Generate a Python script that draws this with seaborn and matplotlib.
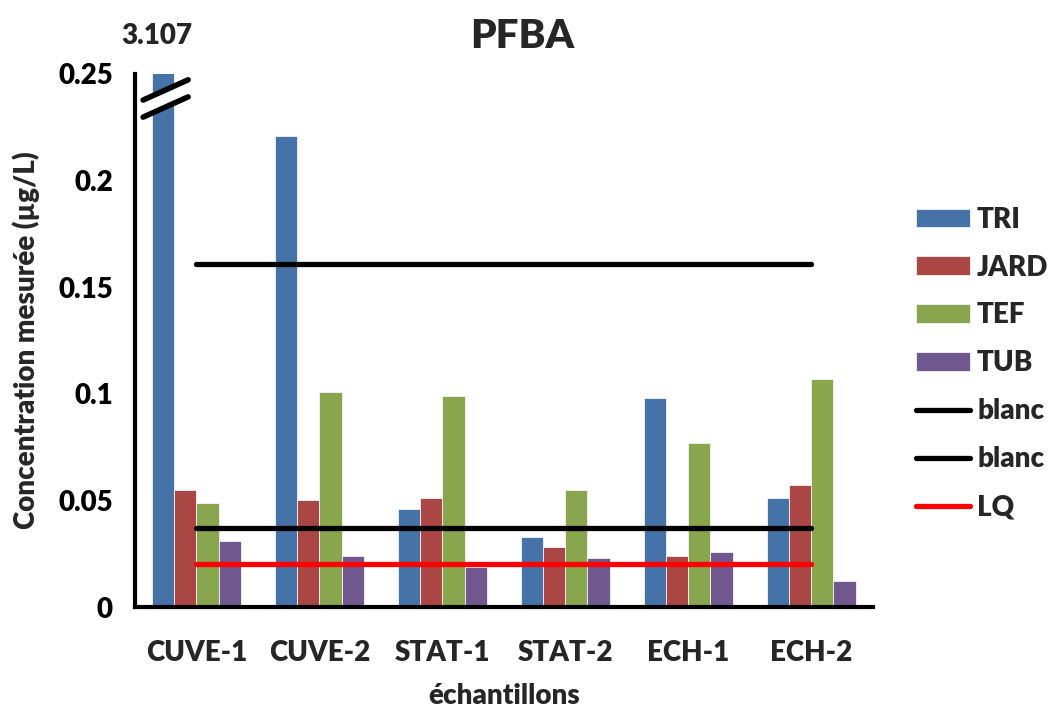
import matplotlib
matplotlib.use("Agg")
import matplotlib.pyplot as plt
import matplotlib.transforms as mtransforms
from matplotlib.lines import Line2D
from matplotlib.patches import Polygon
import seaborn as sns
import pandas as pd

# --- data ---------------------------------------------------------------
categories = ["CUVE-1", "CUVE-2", "STAT-1", "STAT-2", "ECH-1", "ECH-2"]
series_names = ["TRI", "JARD", "TEF", "TUB"]
tri = [3.107, 0.221, 0.046, 0.033, 0.098, 0.051]
jard = [0.055, 0.050, 0.051, 0.028, 0.024, 0.057]
tef = [0.049, 0.101, 0.099, 0.055, 0.077, 0.107]
tub = [0.031, 0.024, 0.019, 0.023, 0.026, 0.012]
blanc_high = [0.161, 0.161, 0.161, 0.161, 0.161, 0.161]
blanc_low = [0.037, 0.037, 0.037, 0.037, 0.037, 0.037]
lq = [0.020, 0.020, 0.020, 0.020, 0.020, 0.020]
y_ticks = [0, 0.05, 0.1, 0.15, 0.2, 0.25]
y_tick_labels = ["0", "0.05", "0.1", "0.15", "0.2", "0.25"]

colors = ["#4572A7", "#AA4643", "#89A54E", "#71588F"]

rows = []
for name, vals in zip(series_names, [tri, jard, tef, tub]):
    for cat, v in zip(categories, vals):
        rows.append({"échantillon": cat, "site": name, "conc": v})
df = pd.DataFrame(rows)

# --- style ----------------------------------------------------------------
sns.set_style("white")
plt.rcParams["font.family"] = ["Lato", "DejaVu Sans"]
W = "heavy"
plt.rcParams["font.weight"] = W
FS = 20

fig = plt.figure(figsize=(10.48, 7.07), dpi=100)
ax = fig.add_axes([0.1288, 0.1414, 0.704, 0.754])

sns.barplot(data=df, x="échantillon", y="conc", hue="site",
            hue_order=series_names, order=categories,
            palette=colors, width=0.72, saturation=1, ax=ax,
            edgecolor="#f4f4f4", linewidth=0.6, errorbar=None)
bar_handles, _ = ax.get_legend_handles_labels()
if ax.get_legend() is not None:
    ax.get_legend().remove()

xs = list(range(len(categories)))
l1, = ax.plot(xs, blanc_high, color="black", lw=3.8, solid_capstyle="round")
l2, = ax.plot(xs, blanc_low, color="black", lw=3.8, solid_capstyle="round")
l3, = ax.plot(xs, lq, color="#FF0000", lw=3.8, solid_capstyle="round")

ax.set_ylim(0, 0.25)
ax.set_xlim(-0.5, len(categories) - 0.5)

# axes, ticks
for side in ["top", "right"]:
    ax.spines[side].set_visible(False)
for side in ["left", "bottom"]:
    ax.spines[side].set_linewidth(3)
    ax.spines[side].set_color("black")

ax.set_yticks(y_ticks)
ax.set_yticklabels(y_tick_labels)
ax.tick_params(axis="y", direction="out", length=7, width=3, colors="black",
               labelsize=FS, pad=9)
ax.set_xticks(xs)
ax.set_xticklabels(categories)
ax.set_xticks([x - 0.5 for x in range(len(categories) + 1)], minor=True)
ax.tick_params(axis="x", which="major", length=0, labelsize=FS, pad=24)
ax.tick_params(axis="x", which="minor", direction="out", length=8, width=3,
               colors="black")
for lbl in ax.get_xticklabels() + ax.get_yticklabels():
    lbl.set_fontweight(W)

ax.set_xlabel("échantillons", fontsize=FS, fontweight=W, labelpad=12)
ax.set_ylabel("Concentration mesurée (µg/L)", fontsize=FS, fontweight=W,
              labelpad=13)

fig.text(0.498, 1 - 37 / 707, "PFBA", ha="center", va="center",
         fontsize=29, fontweight=W)

# value of the truncated bar, above the axis top
bar_x = ax.containers[0][0].get_x() + ax.containers[0][0].get_width() / 2
trans = mtransforms.blended_transform_factory(ax.transData, ax.transAxes)
ax.text(bar_x - 0.05, 1.072, f"{tri[0]:.3f}", transform=trans, ha="center",
        va="center", fontsize=FS, fontweight=W, clip_on=False)

# axis break marks across the truncated bar
x0, x1 = 0.011, 0.072
ya0, ya1 = 0.951, 0.989
yb0, yb1 = 0.919, 0.957
ax.add_patch(Polygon([[x0, ya0], [x1, ya1], [x1, yb1], [x0, yb0]],
                     closed=True, facecolor="white", edgecolor="none",
                     transform=ax.transAxes, clip_on=False, zorder=5))
ax.add_line(Line2D([x0, x1], [ya0, ya1], color="black", lw=4,
                   transform=ax.transAxes, clip_on=False, zorder=6))
ax.add_line(Line2D([x0, x1], [yb0, yb1], color="black", lw=4,
                   transform=ax.transAxes, clip_on=False, zorder=6))

# legend
handles = list(bar_handles) + [l1, l2, l3]
labels = series_names + ["blanc", "blanc", "LQ"]
leg = fig.legend(handles, labels, loc="center left",
                 bbox_to_anchor=(0.874, 0.486), frameon=False,
                 borderaxespad=0, borderpad=0,
                 prop={"size": FS, "weight": W},
                 handlelength=1.95, handleheight=0.65, handletextpad=0.25,
                 labelspacing=0.79)

fig.savefig("out.png", dpi=100)
